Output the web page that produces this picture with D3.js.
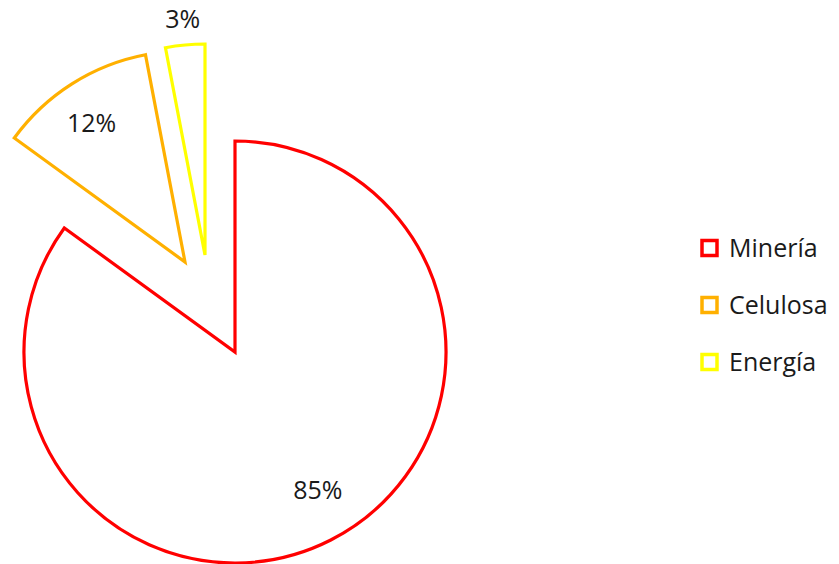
<!DOCTYPE html>
<html>
<head>
<meta charset="utf-8">
<script src="https://cdn.jsdelivr.net/npm/d3@7"></script>
<style>
  html, body { margin: 0; padding: 0; background: #fff; }
  svg { display: block; }
  text { font-family: "Open Sans", "Noto Sans", sans-serif; fill: #1a1a1a; }
</style>
</head>
<body>
<svg id="chart" width="839" height="564"></svg>
<script>
// ---- data ----
const categories = ["Minería", "Celulosa", "Energía"];
const values = [85, 12, 3];
const labels = ["85%", "12%", "3%"];

// ---- layout / style ----
const colors = ["#FF0000", "#FFB000", "#FFFF00"];
const width = 839, height = 564;
const center = { x: 235, y: 352 };
const radius = 211;
// explosion offsets of each slice (px)
const explode = [[0, 0], [-50, -90], [-30, -97]];
// label placement: [radius from slice apex, angle in degrees or null = mid-angle]
const labelPlace = [[161, 149], [167, 326], [237, null]];
const fontSize = 25;

const svg = d3.select("#chart");

const pie = d3.pie().sort(null).value(d => d).startAngle(0).endAngle(2 * Math.PI);
const arcs = pie(values);
const arc = d3.arc().innerRadius(0).outerRadius(radius);

const g = svg.append("g").attr("transform", `translate(${center.x},${center.y})`);

const slices = g.selectAll("g.slice")
  .data(arcs)
  .join("g")
  .attr("class", "slice")
  .attr("transform", (d, i) => `translate(${explode[i][0]},${explode[i][1]})`);

slices.append("path")
  .attr("d", arc)
  .attr("fill", "none")
  .attr("stroke", (d, i) => colors[i])
  .attr("stroke-width", 3.2)
  .attr("stroke-linejoin", "miter");

function labelAngle(d, i) {
  return labelPlace[i][1] == null ? (d.startAngle + d.endAngle) / 2 : labelPlace[i][1] * Math.PI / 180;
}

slices.append("text")
  .attr("x", (d, i) => labelPlace[i][0] * Math.sin(labelAngle(d, i)))
  .attr("y", (d, i) => -labelPlace[i][0] * Math.cos(labelAngle(d, i)))
  .attr("dy", "0.35em")
  .attr("text-anchor", "middle")
  .style("font-size", fontSize + "px")
  .text((d, i) => labels[i]);

// ---- legend ----
const legendY = d3.scalePoint().domain(categories).range([248, 362]);
const legend = svg.append("g");
const items = legend.selectAll("g.item")
  .data(categories)
  .join("g")
  .attr("class", "item")
  .attr("transform", d => `translate(702,${legendY(d)})`);

items.append("rect")
  .attr("x", 0).attr("y", -7.5)
  .attr("width", 15).attr("height", 15)
  .attr("fill", "#fff")
  .attr("stroke", (d, i) => colors[i])
  .attr("stroke-width", 3.5);

items.append("text")
  .attr("x", 27)
  .attr("y", 0)
  .attr("dy", "0.35em")
  .style("font-size", fontSize + "px")
  .text(d => d);
</script>
</body>
</html>
